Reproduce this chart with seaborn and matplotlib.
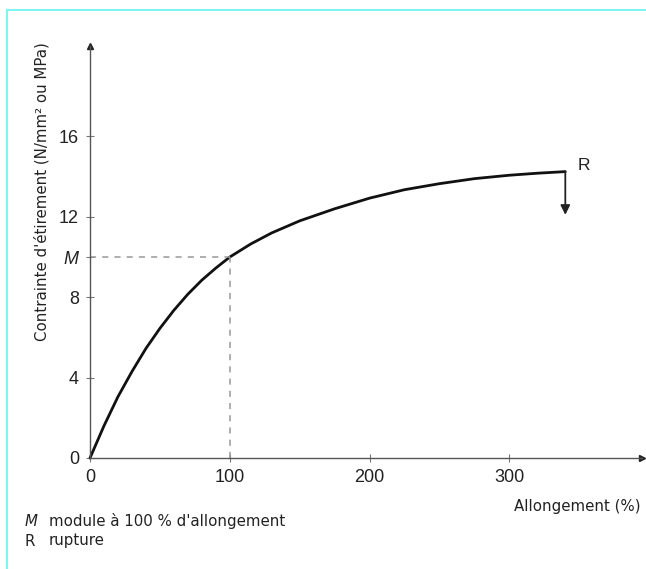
import matplotlib
matplotlib.use("Agg")
import matplotlib.pyplot as plt
from matplotlib.lines import Line2D
import pandas as pd
import seaborn as sns

# elongation (%) vs stretching stress (MPa)
allongement = [0, 10, 20, 30, 40, 50, 60, 70, 80, 90, 100, 115, 130, 150, 175,
               200, 225, 250, 275, 300, 320, 340]
contrainte = [0, 1.6, 3.05, 4.3, 5.45, 6.45, 7.35, 8.15, 8.85, 9.45, 10.0, 10.65,
              11.2, 11.8, 12.4, 12.93, 13.35, 13.65, 13.9, 14.07, 14.17, 14.25]
module_x = 100
module_y = 10
rupture_x = 340
rupture_y = 14.25
rupture_fin = 12.1
yticks = [0, 4, 8, 12, 16]
xticks = [0, 100, 200, 300]

df = pd.DataFrame({"Allongement": allongement, "Contrainte": contrainte})

sns.set_style("white")
plt.rcParams["font.family"] = ["Liberation Sans", "DejaVu Sans"]

fig = plt.figure(figsize=(6.46, 5.69), dpi=100)
ax = fig.add_axes([90 / 646, 111 / 569, 551.5 / 646, 412 / 569])

sns.lineplot(data=df, x="Allongement", y="Contrainte", ax=ax, color="#111111",
             linewidth=2.0, clip_on=False)

# dashed guides for the 100 % modulus
ax.plot([0, module_x], [module_y, module_y], ls=(0, (4, 4)), color="#999999", lw=1.1)
ax.plot([module_x, module_x], [0, module_y], ls=(0, (4, 4)), color="#999999", lw=1.1)

# rupture arrow
ax.annotate("", xy=(rupture_x, rupture_fin), xytext=(rupture_x, rupture_y),
            arrowprops=dict(arrowstyle="-|>", color="#222222", lw=1.3,
                            mutation_scale=14, shrinkA=0, shrinkB=0))
ax.text(rupture_x + 9, rupture_y + 0.3, "R", fontsize=12.5, color="#222222",
        va="center", ha="left")

ax.set_xlim(0, 394.5)
ax.set_ylim(0, 20.5)
ax.set_xticks(xticks)
ax.set_xticklabels([str(v) for v in xticks])
ax.set_yticks(yticks + [module_y])
ax.set_yticklabels([str(v) for v in yticks] + ["M"])
for lab in ax.get_yticklabels():
    if lab.get_text() == "M":
        lab.set_fontstyle("italic")
ax.tick_params(axis="both", left=True, bottom=True, direction="inout", length=6,
               width=0.8, color="#777777", labelsize=13, labelcolor="#222222", pad=5)

for side in ["top", "right"]:
    ax.spines[side].set_visible(False)
for side in ["left", "bottom"]:
    ax.spines[side].set_color("#555555")
    ax.spines[side].set_linewidth(1.0)

# small arrow heads at axis ends
ax.plot(1, 0, marker=">", color="#222222", ms=4, transform=ax.transAxes, clip_on=False)
ax.plot(0, 1, marker="^", color="#222222", ms=4, transform=ax.transAxes, clip_on=False)

ax.set_xlabel("")
ax.set_ylabel("")
txt = dict(color="#222222", family=["DejaVu Sans"])
fig.text(42 / 646, 1 - 192 / 569, "Contrainte d'étirement (N/mm² ou MPa)",
         rotation=90, ha="center", va="center", fontsize=10.8, **txt)
fig.text(641 / 646, 1 - 507 / 569, "Allongement (%)", ha="right", va="center",
         fontsize=10.8, **txt)
fig.text(25 / 646, 1 - 521 / 569, "M", fontstyle="italic", ha="left", va="center",
         fontsize=10.8, **txt)
fig.text(49 / 646, 1 - 521 / 569, "module à 100 % d'allongement", ha="left",
         va="center", fontsize=10.8, **txt)
fig.text(25 / 646, 1 - 541 / 569, "R", ha="left", va="center", fontsize=10.8, **txt)
fig.text(49 / 646, 1 - 541 / 569, "rupture", ha="left", va="center", fontsize=10.8,
         **txt)

# cyan frame at top and left
fig.add_artist(Line2D([7 / 646, 1], [1 - 10 / 569, 1 - 10 / 569], color="#80f4f0", lw=1.5))
fig.add_artist(Line2D([7 / 646, 7 / 646], [0, 1 - 10 / 569], color="#80f4f0", lw=1.5))

fig.savefig("out.png", dpi=100)
